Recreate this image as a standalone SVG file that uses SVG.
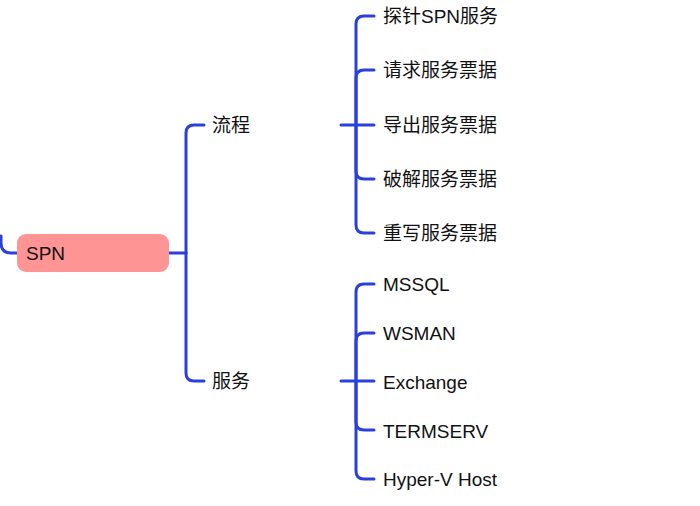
<svg xmlns="http://www.w3.org/2000/svg" width="700" height="506" viewBox="0 0 700 506">
<style>
.c{fill:none;stroke:#2a40dc;stroke-width:3;stroke-linecap:round;stroke-linejoin:round}
text{font-family:"Liberation Sans","Noto Sans CJK SC",sans-serif;font-size:19px;fill:#111}
</style>
<rect width="700" height="506" fill="#fff"/>
<g id="connectors">
<path class="c" d="M1,236 L1,243 Q1,253 11,253 L17,253"/>
<path class="c" d="M169,253 L186,253"/>
<path class="c" d="M186,253 L186,133 Q186,125 194,125 L204,125"/>
<path class="c" d="M186,253 L186,373 Q186,381 194,381 L204,381"/>
<path class="c" d="M341,125 L374,125"/>
<path class="c" d="M356,125 L356,24 Q356,16 364,16 L374,16"/>
<path class="c" d="M356,125 L356,78 Q356,70 364,70 L374,70"/>
<path class="c" d="M356,125 L356,171 Q356,179 364,179 L374,179"/>
<path class="c" d="M356,125 L356,225 Q356,233 364,233 L374,233"/>
<path class="c" d="M341,381 L374,381"/>
<path class="c" d="M356,381 L356,292 Q356,284 364,284 L374,284"/>
<path class="c" d="M356,381 L356,341 Q356,333 364,333 L374,333"/>
<path class="c" d="M356,381 L356,422 Q356,430 364,430 L374,430"/>
<path class="c" d="M356,381 L356,471 Q356,479 364,479 L374,479"/>
</g>
<g id="spn"><rect x="17" y="234" width="152" height="38" rx="9" fill="#ff9494"/><text x="26" y="260">SPN</text></g>
<g id="liucheng"><text x="212" y="132">流程</text></g>
<g id="fuwu"><text x="212" y="388">服务</text></g>
<g id="n1"><text x="383" y="23">探针SPN服务</text></g>
<g id="n2"><text x="383" y="77">请求服务票据</text></g>
<g id="n3"><text x="383" y="132">导出服务票据</text></g>
<g id="n4"><text x="383" y="186">破解服务票据</text></g>
<g id="n5"><text x="383" y="240">重写服务票据</text></g>
<g id="m1"><text x="383" y="291">MSSQL</text></g>
<g id="m2"><text x="383" y="340">WSMAN</text></g>
<g id="m3"><text x="383" y="388.5">Exchange</text></g>
<g id="m4"><text x="383" y="437.5">TERMSERV</text></g>
<g id="m5"><text x="383" y="486">Hyper-V Host</text></g>
</svg>
